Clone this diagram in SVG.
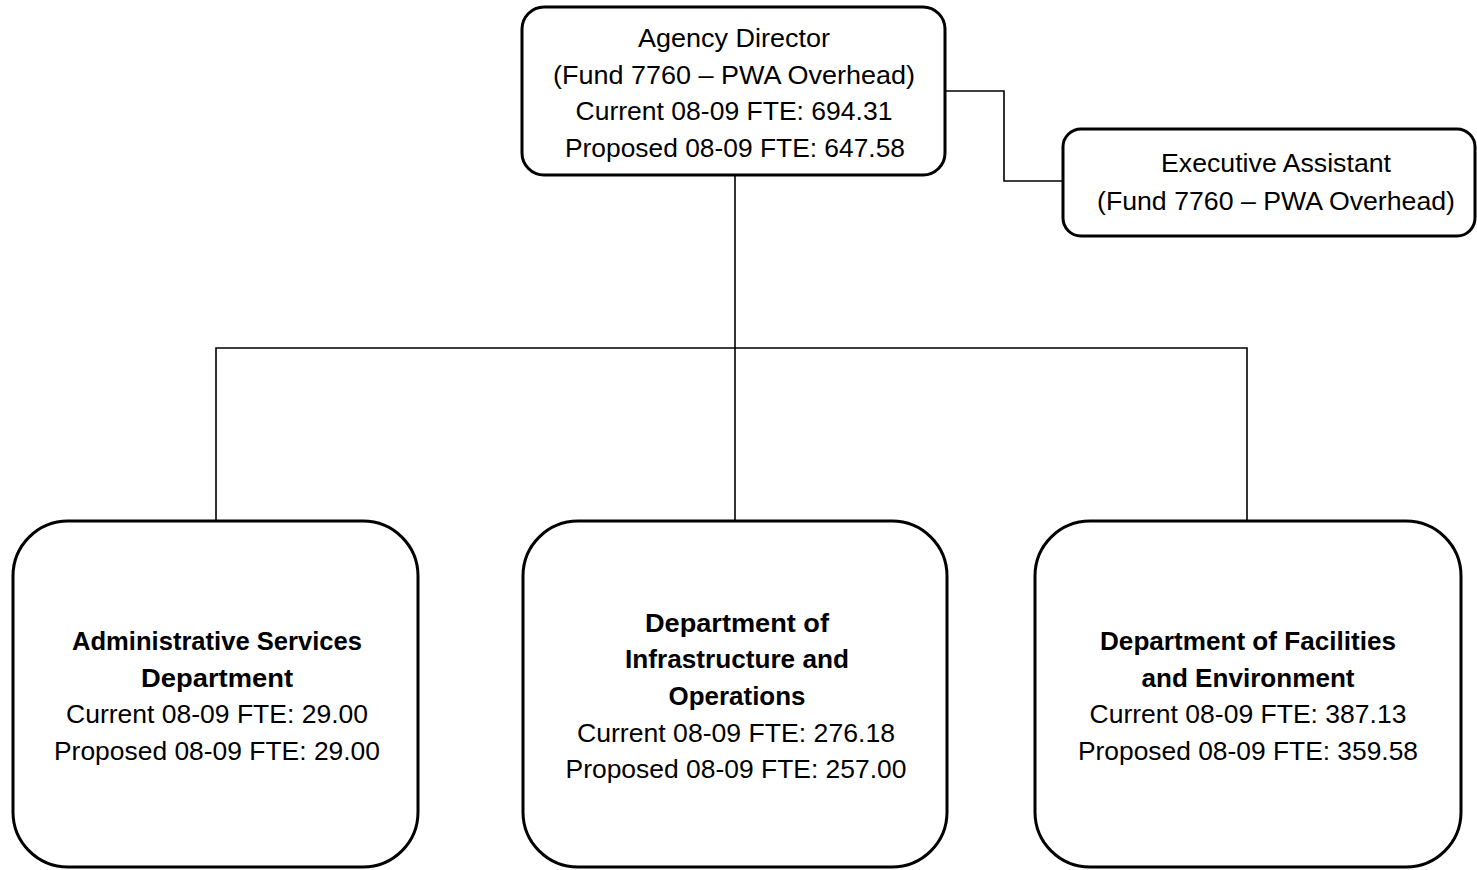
<svg xmlns="http://www.w3.org/2000/svg" width="1477" height="870" viewBox="0 0 1477 870">
<style>
.box{fill:#fff;stroke:#000;stroke-width:3}
.t{font-family:"Liberation Sans",Arial,sans-serif;font-size:25px;fill:#000;text-anchor:middle}
.b{font-weight:bold}
.c{fill:none;stroke:#000;stroke-width:1.6}
</style>
<rect width="1477" height="870" fill="#fff"/>
<g id="connectors">
<polyline class="c" points="945,91 1004,91 1004,181 1063,181"/>
<line class="c" x1="735" y1="175" x2="735" y2="348"/>
<polyline class="c" points="216,521 216,348 1247,348 1247,521"/>
<line class="c" x1="735" y1="348" x2="735" y2="521"/>
</g>
<g id="agency-director">
<rect class="box" x="522" y="7" width="423" height="168" rx="22"/>
<text class="t" x="734" y="47" textLength="192" lengthAdjust="spacingAndGlyphs">Agency Director</text>
<text class="t" x="734" y="84" textLength="362" lengthAdjust="spacingAndGlyphs">(Fund 7760 – PWA Overhead)</text>
<text class="t" x="734" y="120" textLength="317" lengthAdjust="spacingAndGlyphs">Current 08-09 FTE: 694.31</text>
<text class="t" x="735" y="157" textLength="340" lengthAdjust="spacingAndGlyphs">Proposed 08-09 FTE: 647.58</text>
</g>
<g id="executive-assistant">
<rect class="box" x="1063" y="129" width="412" height="107" rx="18"/>
<text class="t" x="1276" y="172" textLength="230" lengthAdjust="spacingAndGlyphs">Executive Assistant</text>
<text class="t" x="1276" y="210" textLength="358" lengthAdjust="spacingAndGlyphs">(Fund 7760 – PWA Overhead)</text>
</g>
<g id="admin-services">
<rect class="box" x="13" y="521" width="405" height="346" rx="55"/>
<text class="t b" x="217" y="650" textLength="290" lengthAdjust="spacingAndGlyphs">Administrative Services</text>
<text class="t b" x="217" y="687" textLength="152" lengthAdjust="spacingAndGlyphs">Department</text>
<text class="t" x="217" y="723" textLength="302" lengthAdjust="spacingAndGlyphs">Current 08-09 FTE: 29.00</text>
<text class="t" x="217" y="760" textLength="326" lengthAdjust="spacingAndGlyphs">Proposed 08-09 FTE: 29.00</text>
</g>
<g id="infrastructure-operations">
<rect class="box" x="523" y="521" width="424" height="346" rx="55"/>
<text class="t b" x="737" y="632" textLength="184" lengthAdjust="spacingAndGlyphs">Department of</text>
<text class="t b" x="737" y="668" textLength="224" lengthAdjust="spacingAndGlyphs">Infrastructure and</text>
<text class="t b" x="737" y="705" textLength="137" lengthAdjust="spacingAndGlyphs">Operations</text>
<text class="t" x="736" y="742" textLength="318" lengthAdjust="spacingAndGlyphs">Current 08-09 FTE: 276.18</text>
<text class="t" x="736" y="778" textLength="341" lengthAdjust="spacingAndGlyphs">Proposed 08-09 FTE: 257.00</text>
</g>
<g id="facilities-environment">
<rect class="box" x="1035" y="521" width="426" height="346" rx="55"/>
<text class="t b" x="1248" y="650" textLength="296" lengthAdjust="spacingAndGlyphs">Department of Facilities</text>
<text class="t b" x="1248" y="687" textLength="213" lengthAdjust="spacingAndGlyphs">and Environment</text>
<text class="t" x="1248" y="723" textLength="317" lengthAdjust="spacingAndGlyphs">Current 08-09 FTE: 387.13</text>
<text class="t" x="1248" y="760" textLength="340" lengthAdjust="spacingAndGlyphs">Proposed 08-09 FTE: 359.58</text>
</g>
</svg>
